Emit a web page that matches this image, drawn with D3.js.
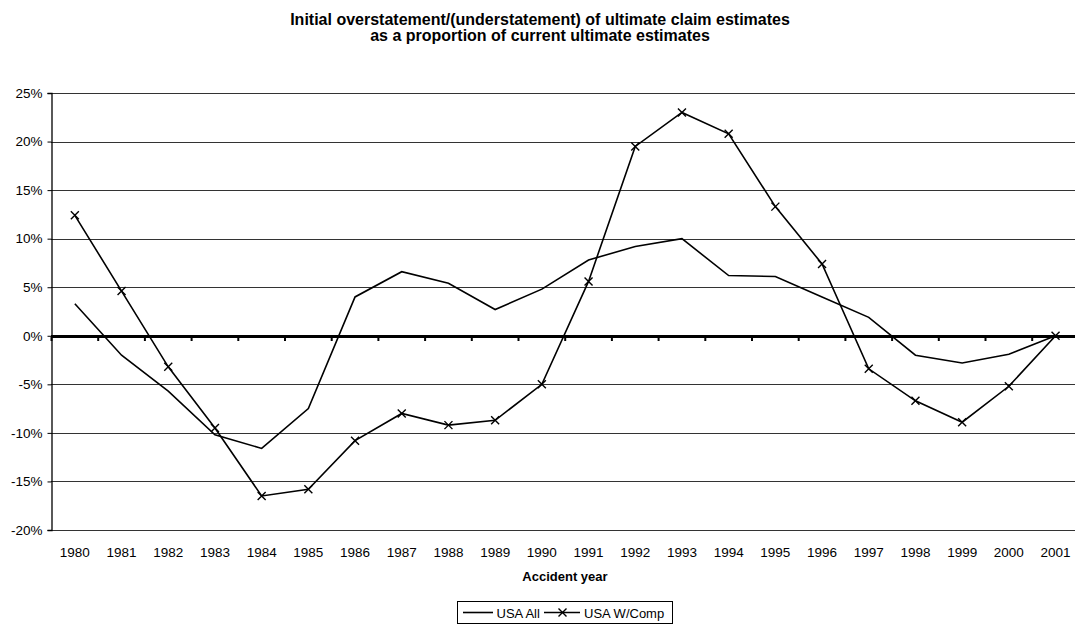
<!DOCTYPE html>
<html>
<head>
<meta charset="utf-8">
<script src="https://cdn.jsdelivr.net/npm/d3@7"></script>
<style>
  html, body { margin: 0; padding: 0; background: #fff; }
  svg { display: block; font-family: "Liberation Sans", Arial, sans-serif; }
</style>
</head>
<body>
<svg id="chart" width="1075" height="626"></svg>
<script>
// Accident years on the category axis
const years = ["1980","1981","1982","1983","1984","1985","1986","1987","1988","1989","1990",
               "1991","1992","1993","1994","1995","1996","1997","1998","1999","2000","2001"];

// Initial over/(under)statement as a share of current ultimate estimates, in %
const usaAll = [3.3, -2.0, -5.7, -10.2, -11.6, -7.5, 4.0, 6.6, 5.4, 2.7, 4.8,
                7.8, 9.2, 10.0, 6.2, 6.1, 4.0, 1.9, -2.0, -2.8, -1.9, 0.0];
const usaWComp = [12.4, 4.6, -3.2, -9.5, -16.5, -15.8, -10.8, -8.0, -9.2, -8.7, -5.0,
                  5.6, 19.5, 23.0, 20.8, 13.3, 7.4, -3.4, -6.7, -8.9, -5.2, 0.0];

const yTicks = [25, 20, 15, 10, 5, 0, -5, -10, -15, -20];

const titleLines = [
  "Initial overstatement/(understatement) of ultimate claim estimates",
  "as a proportion of current ultimate estimates"
];
const xTitle = "Accident year";
const seriesNames = ["USA All", "USA W/Comp"];

const svg = d3.select("#chart");

// The plot area runs slightly past the right edge of the canvas
const plot = { left: 51, top: 93, bottom: 530 };
const step = 46.7;
const plotRight = plot.left + 0.5 + step * years.length;
const plotMid = (plot.left + plotRight) / 2;
const x = d3.scaleBand().domain(years).range([plot.left + 0.5, plotRight]).padding(0);
const y = d3.scaleLinear().domain([-20, 25]).range([plot.bottom, plot.top]);
const cx = d => x(d) + x.bandwidth() / 2;

// Title
svg.append("g").selectAll("text").data(titleLines).join("text")
  .attr("x", 540).attr("y", (d, i) => 24.5 + i * 16.5)
  .attr("text-anchor", "middle")
  .attr("font-size", 16).attr("font-weight", "bold").attr("fill", "#000")
  .text(d => d);

// Horizontal gridlines
svg.append("g").selectAll("line").data(yTicks.filter(t => t !== 0)).join("line")
  .attr("x1", plot.left).attr("x2", 1075)
  .attr("y1", d => Math.round(y(d)) + 0.5).attr("y2", d => Math.round(y(d)) + 0.5)
  .attr("stroke", "#333").attr("stroke-width", 1.2);

// Value axis on the left
const yAxis = d3.axisLeft(y).tickValues(yTicks).tickSize(4).tickPadding(5).tickFormat(d => d + "%");
const gy = svg.append("g").attr("transform", `translate(${plot.left + 0.5},0)`).call(yAxis);
gy.select(".domain").attr("stroke", "#000").attr("stroke-width", 1.3);
gy.selectAll(".tick line").attr("stroke", "#000");
gy.selectAll(".tick text").attr("font-size", 13.5).attr("fill", "#000")
  .attr("font-family", "Liberation Sans, Arial, sans-serif");

// Category axis crossing at 0% with tick marks between categories
const y0 = Math.round(y(0)) + 0.5;
svg.append("line")
  .attr("x1", plot.left).attr("x2", 1075).attr("y1", y0).attr("y2", y0)
  .attr("stroke", "#000").attr("stroke-width", 3);
svg.append("g").selectAll("line").data(years).join("line")
  .attr("x1", d => x(d)).attr("x2", d => x(d))
  .attr("y1", y0).attr("y2", y0 + 4.5)
  .attr("stroke", "#000").attr("stroke-width", 2);

// Category labels below the plot
svg.append("g").selectAll("text").data(years).join("text")
  .attr("x", d => cx(d)).attr("y", 556.5)
  .attr("text-anchor", "middle").attr("font-size", 13.5).attr("fill", "#000")
  .text(d => d);

svg.append("text")
  .attr("x", plotMid).attr("y", 581).attr("text-anchor", "middle")
  .attr("font-size", 13).attr("font-weight", "bold").attr("fill", "#000")
  .text(xTitle);

// Series lines
const line = d3.line().x((d, i) => cx(years[i])).y(d => y(d));
svg.append("path").datum(usaAll).attr("d", line)
  .attr("fill", "none").attr("stroke", "#000").attr("stroke-width", 1.6);
svg.append("path").datum(usaWComp).attr("d", line)
  .attr("fill", "none").attr("stroke", "#000").attr("stroke-width", 1.6);

// Cross markers on the W/Comp series
const cross = (px, py, r) => `M${px - r},${py - r}L${px + r},${py + r}M${px - r},${py + r}L${px + r},${py - r}`;
svg.append("g").selectAll("path").data(usaWComp).join("path")
  .attr("d", (d, i) => cross(cx(years[i]), y(d), 4))
  .attr("stroke", "#000").attr("stroke-width", 1.4).attr("fill", "none");

// Legend, centred under the plot area
const lg = svg.append("g");
lg.append("rect").attr("x", 457.5).attr("y", 601.5).attr("width", 215).attr("height", 22)
  .attr("fill", "#fff").attr("stroke", "#000").attr("stroke-width", 1);
const ly = 612.5;
lg.append("line").attr("x1", 463).attr("x2", 493).attr("y1", ly).attr("y2", ly)
  .attr("stroke", "#000").attr("stroke-width", 1.6);
lg.append("text").attr("x", 496.5).attr("y", 617.5).attr("font-size", 13).attr("fill", "#000").text(seriesNames[0]);
lg.append("line").attr("x1", 544).attr("x2", 580).attr("y1", ly).attr("y2", ly)
  .attr("stroke", "#000").attr("stroke-width", 1.6);
lg.append("path").attr("d", cross(562.5, ly, 4)).attr("stroke", "#000").attr("stroke-width", 1.4);
lg.append("text").attr("x", 584).attr("y", 617.5).attr("font-size", 13).attr("fill", "#000").text(seriesNames[1]);
</script>
</body>
</html>
